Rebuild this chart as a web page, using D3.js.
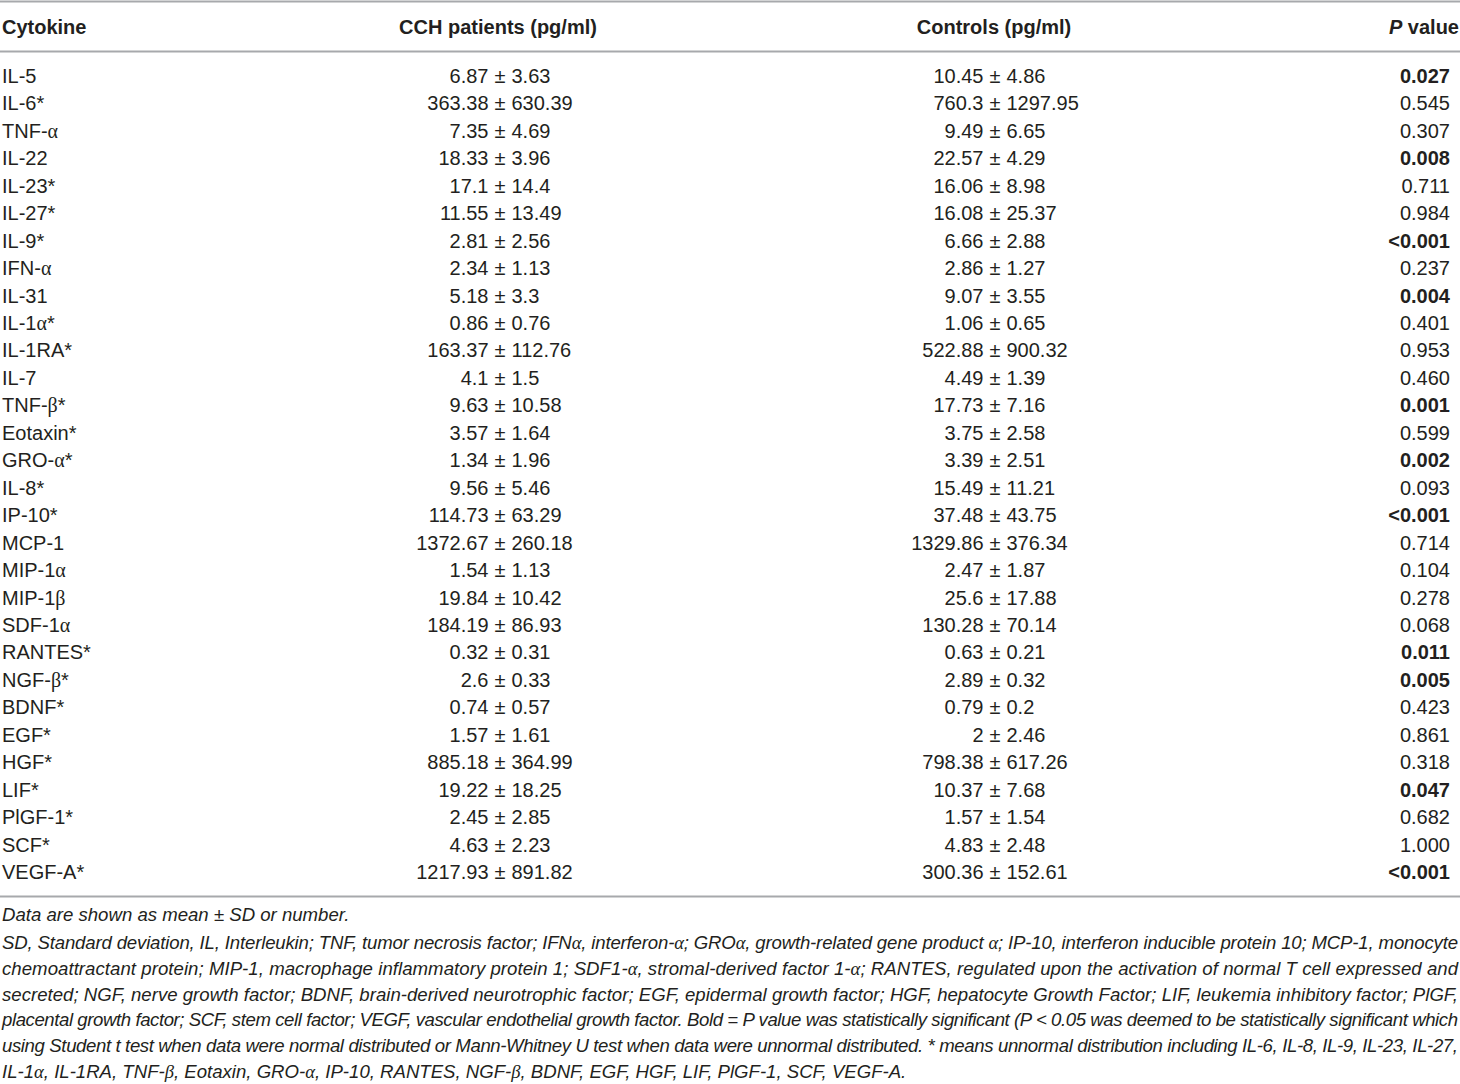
<!DOCTYPE html>
<html>
<head>
<meta charset="utf-8">
<script src="https://cdn.jsdelivr.net/npm/d3@7"></script>
<style>
  body { margin: 0; background: #fff; }
  svg text { font-family: 'Liberation Sans', Arial, sans-serif; fill: #231f20; }
</style>
</head>
<body>
<div id="chart"></div>
<script>
var w = 1460; // page width
var h = 1084; // page height

// table contents
var headers = ["Cytokine", "CCH patients (pg/ml)", "Controls (pg/ml)", "P value"];
var cytokines = ["IL-5", "IL-6*", "TNF-α", "IL-22", "IL-23*", "IL-27*", "IL-9*", "IFN-α", "IL-31", "IL-1α*",
    "IL-1RA*", "IL-7", "TNF-β*", "Eotaxin*", "GRO-α*", "IL-8*", "IP-10*", "MCP-1", "MIP-1α", "MIP-1β",
    "SDF-1α", "RANTES*", "NGF-β*", "BDNF*", "EGF*", "HGF*", "LIF*", "PlGF-1*", "SCF*", "VEGF-A*"];
var cchMean = ["6.87", "363.38", "7.35", "18.33", "17.1", "11.55", "2.81", "2.34", "5.18", "0.86",
    "163.37", "4.1", "9.63", "3.57", "1.34", "9.56", "114.73", "1372.67", "1.54", "19.84",
    "184.19", "0.32", "2.6", "0.74", "1.57", "885.18", "19.22", "2.45", "4.63", "1217.93"];
var cchSD = ["3.63", "630.39", "4.69", "3.96", "14.4", "13.49", "2.56", "1.13", "3.3", "0.76",
    "112.76", "1.5", "10.58", "1.64", "1.96", "5.46", "63.29", "260.18", "1.13", "10.42",
    "86.93", "0.31", "0.33", "0.57", "1.61", "364.99", "18.25", "2.85", "2.23", "891.82"];
var ctrlMean = ["10.45", "760.3", "9.49", "22.57", "16.06", "16.08", "6.66", "2.86", "9.07", "1.06",
    "522.88", "4.49", "17.73", "3.75", "3.39", "15.49", "37.48", "1329.86", "2.47", "25.6",
    "130.28", "0.63", "2.89", "0.79", "2", "798.38", "10.37", "1.57", "4.83", "300.36"];
var ctrlSD = ["4.86", "1297.95", "6.65", "4.29", "8.98", "25.37", "2.88", "1.27", "3.55", "0.65",
    "900.32", "1.39", "7.16", "2.58", "2.51", "11.21", "43.75", "376.34", "1.87", "17.88",
    "70.14", "0.21", "0.32", "0.2", "2.46", "617.26", "7.68", "1.54", "2.48", "152.61"];
var pValues = ["0.027", "0.545", "0.307", "0.008", "0.711", "0.984", "<0.001", "0.237", "0.004", "0.401",
    "0.953", "0.460", "0.001", "0.599", "0.002", "0.093", "<0.001", "0.714", "0.104", "0.278",
    "0.068", "0.011", "0.005", "0.423", "0.861", "0.318", "0.047", "0.682", "1.000", "<0.001"];
var significant = [1, 0, 0, 1, 0, 0, 1, 0, 1, 0,
    0, 0, 1, 0, 1, 0, 1, 0, 0, 0,
    0, 1, 1, 0, 0, 0, 1, 0, 0, 1];

var footnotes = [
    "Data are shown as mean ± SD or number.",
    "SD, Standard deviation, IL, Interleukin; TNF, tumor necrosis factor; IFNα, interferon-α; GROα, growth-related gene product α; IP-10, interferon inducible protein 10; MCP-1, monocyte",
    "chemoattractant protein; MIP-1, macrophage inflammatory protein 1; SDF1-α, stromal-derived factor 1-α; RANTES, regulated upon the activation of normal T cell expressed and",
    "secreted; NGF, nerve growth factor; BDNF, brain-derived neurotrophic factor; EGF, epidermal growth factor; HGF, hepatocyte Growth Factor; LIF, leukemia inhibitory factor; PlGF,",
    "placental growth factor; SCF, stem cell factor; VEGF, vascular endothelial growth factor. Bold = P value was statistically significant (P < 0.05 was deemed to be statistically significant which",
    "using Student t test when data were normal distributed or Mann-Whitney U test when data were unnormal distributed. * means unnormal distribution including IL-6, IL-8, IL-9, IL-23, IL-27,",
    "IL-1α, IL-1RA, TNF-β, Eotaxin, GRO-α, IP-10, RANTES, NGF-β, BDNF, EGF, HGF, LIF, PlGF-1, SCF, VEGF-A."
];
var justified = [0, 1, 1, 1, 1, 1, 0];

var rows = cytokines.map(function(c, i) {
    return {
        name: c,
        cchMean: cchMean[i], cchSD: cchSD[i],
        ctrlMean: ctrlMean[i], ctrlSD: ctrlSD[i],
        p: pValues[i],
        sig: significant[i] === 1
    };
});

// split text so greek letters get a serif face like the original
function addGreek(sel, str) {
    str.split(/([αβ])/).forEach(function(part) {
        if (part === "") return;
        var t = sel.append("tspan").text(part);
        if (part === "α" || part === "β") t.style("font-family", "'Liberation Serif', 'DejaVu Serif', serif");
    });
}

var svg = d3.select("#chart")
    .append("svg")
    .attr("width", w)
    .attr("height", h);

var yScale = d3.scaleBand()
    .domain(cytokines)
    .range([62.3, 885.7]);

// x of the left column, the two "±" signs and the right edge of P
var xCol = d3.scaleOrdinal()
    .domain(["name", "cch", "ctrl", "p"])
    .range([2, 500, 995, 1450]);

var ruleColor = "#a7a9ac";
var fs = 20;
var gap = 11.5; // half of the ± with its spaces

// rules
[1.5, 51.5, 896.5].forEach(function(y) {
    svg.append("line")
        .attr("x1", 0).attr("x2", w)
        .attr("y1", y).attr("y2", y)
        .attr("stroke", ruleColor)
        .attr("stroke-width", 2);
});

// header
var hy = 27;
svg.append("text").attr("x", xCol("name")).attr("y", hy).attr("dy", "0.35em")
    .style("font-weight", "bold").style("font-size", fs + "px").text(headers[0]);
svg.append("text").attr("x", 498).attr("y", hy).attr("dy", "0.35em")
    .attr("text-anchor", "middle").style("font-weight", "bold").style("font-size", fs + "px").text(headers[1]);
svg.append("text").attr("x", 994).attr("y", hy).attr("dy", "0.35em")
    .attr("text-anchor", "middle").style("font-weight", "bold").style("font-size", fs + "px").text(headers[2]);
var ph = svg.append("text").attr("x", 1459).attr("y", hy).attr("dy", "0.35em")
    .attr("text-anchor", "end").style("font-weight", "bold").style("font-size", fs + "px");
ph.append("tspan").style("font-style", "italic").text("P");
ph.append("tspan").text(" value");

// body rows
var g = svg.selectAll("g.row")
    .data(rows)
    .enter()
    .append("g")
    .attr("class", "row")
    .attr("transform", function(d) { return "translate(0," + (yScale(d.name) + yScale.bandwidth() / 2) + ")"; });

g.append("text")
    .attr("x", xCol("name")).attr("dy", "0.35em")
    .style("font-size", fs + "px")
    .each(function(d) { addGreek(d3.select(this), d.name); });

// mean ± SD, lined up on the ± sign
[["cch", "cchMean", "cchSD"], ["ctrl", "ctrlMean", "ctrlSD"]].forEach(function(c) {
    g.append("text")
        .attr("x", xCol(c[0]) - gap).attr("dy", "0.35em")
        .attr("text-anchor", "end")
        .style("font-size", fs + "px")
        .text(function(d) { return d[c[1]]; });
    g.append("text")
        .attr("x", xCol(c[0])).attr("dy", "0.35em")
        .attr("text-anchor", "middle")
        .style("font-size", fs + "px")
        .text("±");
    g.append("text")
        .attr("x", xCol(c[0]) + gap).attr("dy", "0.35em")
        .attr("text-anchor", "start")
        .style("font-size", fs + "px")
        .text(function(d) { return d[c[2]]; });
});

g.append("text")
    .attr("x", xCol("p")).attr("dy", "0.35em")
    .attr("text-anchor", "end")
    .style("font-size", fs + "px")
    .style("font-weight", function(d) { return d.sig ? "bold" : "normal"; })
    .text(function(d) { return d.p; });

// footnotes
var noteY = [921, 948.5, 974.5, 1000.5, 1026, 1052, 1078];

svg.selectAll("text.note")
    .data(footnotes)
    .enter()
    .append("text")
    .attr("class", "note")
    .attr("x", 2)
    .attr("y", function(d, i) { return noteY[i]; })
    .style("font-size", "18.6px")
    .style("font-style", "italic")
    .each(function(d, i) {
        var t = d3.select(this);
        addGreek(t, d);
        if (justified[i]) t.attr("textLength", 1456).attr("lengthAdjust", "spacing");
    });
</script>
</body>
</html>
